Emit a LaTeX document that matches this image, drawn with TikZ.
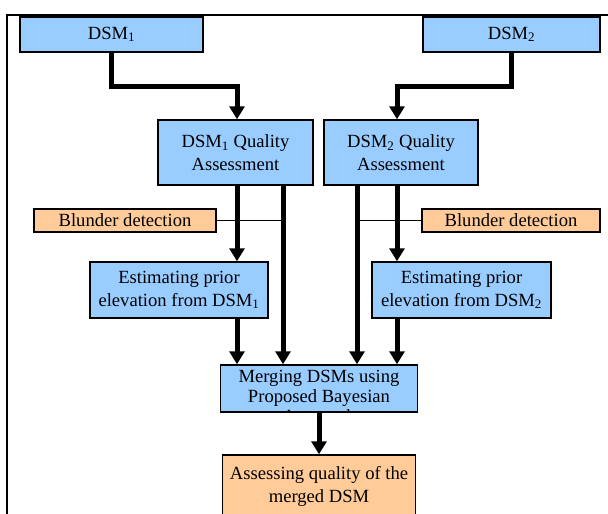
\documentclass[tikz,border=0pt]{standalone}
\usepackage{fontspec}
\setmainfont{Liberation Serif}
\usetikzlibrary{arrows.meta}
\definecolor{skyblue}{RGB}{153,204,255}
\definecolor{peach}{RGB}{255,204,153}
\begin{document}
\begin{tikzpicture}[x=1pt, y=-1pt,
  box/.style={draw=black, line width=1.5pt, inner sep=0pt, align=center,
    font=\fontsize{18.6}{22.5}\selectfont},
  bluebox/.style={box, fill=skyblue},
  orangebox/.style={box, fill=peach},
  flow/.style={line width=5pt, -{Triangle[length=13pt,width=15pt]}},
  link/.style={line width=1.4pt}]
	\useasboundingbox (0,0) rectangle (608,514);
	% 1. 外框
	\draw[line width=2pt] (7,520) -- (7,15) -- (610,15);

	% 2. 方框
	\node[bluebox, minimum width=183, minimum height=35] (dsma) at (111.5,34.5) {DSM\textsubscript{1}};
	\node[bluebox, minimum width=177, minimum height=35] (dsmb) at (511.5,34.5) {DSM\textsubscript{2}};
	\node[bluebox, minimum width=155, minimum height=65] (qaa) at (235.5,152.5) {DSM\textsubscript{1} Quality\\Assessment};
	\node[bluebox, minimum width=154, minimum height=65] (qab) at (401,152.5) {DSM\textsubscript{2} Quality\\Assessment};
	\node[orangebox, minimum width=182, minimum height=23] (blunda) at (125,220.5) {Blunder detection};
	\node[orangebox, minimum width=178, minimum height=23] (blundb) at (511,220.5) {Blunder detection};
	\node[bluebox, minimum width=178, minimum height=56] (esta) at (179,290) {Estimating prior\\elevation from DSM\textsubscript{1}};
	\node[bluebox, minimum width=179, minimum height=56] (estb) at (461.5,290) {Estimating prior\\elevation from DSM\textsubscript{2}};
	\node[bluebox, minimum width=197, minimum height=47] (merge) at (319,388.5) {};
	\begin{scope}
		\clip (merge.north west) rectangle (merge.south east);
		\node[box, draw=none, font=\fontsize{18.6}{20}\selectfont] (mergetext) at (319,398) {Merging DSMs using\\Proposed Bayesian\\Approach};
	\end{scope}
	\node[orangebox, minimum width=193, minimum height=63] (assess) at (319,486.5) {Assessing quality of the\\merged DSM};

	% 3. 连接点
	\path ([xshift=1.5pt]qaa.south) coordinate (qaal)
	      ([xshift=47.5pt]qaa.south) coordinate (qaar)
	      ([xshift=-44pt]qab.south) coordinate (qabl)
	      ([xshift=-4pt]qab.south) coordinate (qabr)
	      ([xshift=58pt]esta.south) coordinate (estaout)
	      ([xshift=-64.5pt]estb.south) coordinate (estbout);

	% 4. 箭头
	\draw[flow] (dsma.south) -- ++(0,34) -| (qaal |- qaa.north);
	\draw[flow] (dsmb.south) -- ++(0,34) -| (qabr |- qab.north);
	\draw[flow] (qaal) -- (qaal |- esta.north);
	\draw[flow] (qaar) -- (qaar |- merge.north);
	\draw[flow] (qabl) -- (qabl |- merge.north);
	\draw[flow] (qabr) -- (qabr |- estb.north);
	\draw[flow] (estaout) -- (estaout |- merge.north);
	\draw[flow] (estbout) -- (estbout |- merge.north);
	\draw[flow] (merge.south) -- (assess.north);
	\draw[link] (blunda.east) -- (blunda.east -| qaar);
	\draw[link] (blundb.west) -- (blundb.west -| qabl);
\end{tikzpicture}
\end{document}
